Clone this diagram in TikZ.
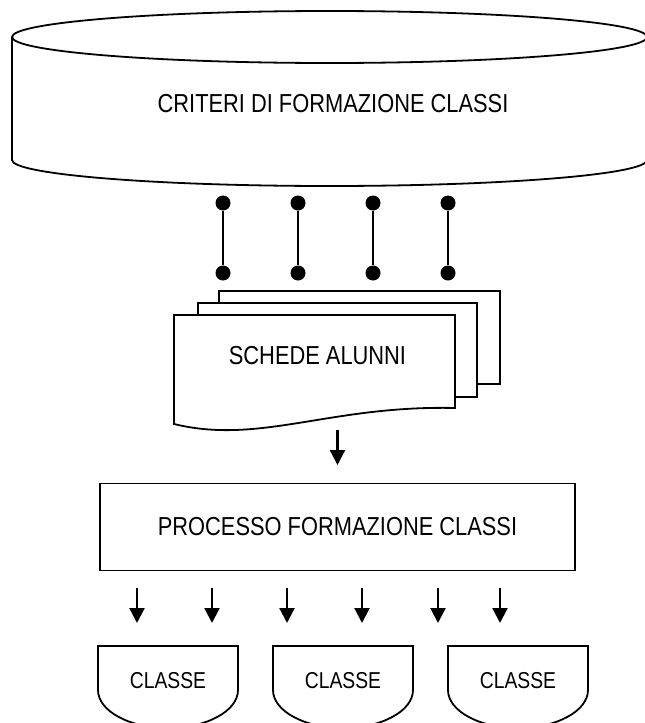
\documentclass[tikz,border=0pt]{standalone}
\usepackage{fontspec}
\setmainfont[FakeStretch=0.84]{Liberation Sans}
\usetikzlibrary{arrows.meta}

\begin{document}
\begin{tikzpicture}[x=1pt, y=-1pt,
    lbl/.style={font=\fontsize{26}{30}\selectfont, inner sep=0pt},
    small lbl/.style={font=\fontsize{23}{27}\selectfont, inner sep=0pt},
    outline/.style={line width=1.8pt, fill=white},
    dot/.style={circle, fill=black, inner sep=0pt, minimum size=15pt},
    flow/.style={line width=2.2pt, -{Triangle[length=15pt, width=15pt]}}]
  \useasboundingbox (0,0) rectangle (645,723);

  % archivio dei criteri
  \draw [outline] (12,37) -- (12,160) arc [start angle=180, end angle=0, x radius=317.5, y radius=26] -- (647,37);
  \draw [outline] (329.5,37) ellipse [x radius=317.5, y radius=26];
  \node [lbl] (crit) at (333,104) {CRITERI DI FORMAZIONE CLASSI};

  % collegamenti
  \foreach \x [count=\i] in {223,298,373,448} {
    \node [dot] (top\i) at (\x,203) {};
    \node [dot] (bot\i) at (\x,273) {};
    \draw [line width=2.2pt] (top\i) -- (bot\i);
  }

  % pila di schede
  \draw [outline] (219,291) rectangle (500,384);
  \draw [outline] (198,303) rectangle (477,397);
  \draw [outline] (174,315) -- (455,315) -- (455,408) .. controls (330,405) and (260,445) .. (174,424) -- cycle;
  \node [lbl] (schede) at (317.5,356) {SCHEDE ALUNNI};

  \node [draw, line width=1.8pt, minimum width=475pt, minimum height=87pt, lbl] (proc) at (337.5,527) {PROCESSO FORMAZIONE CLASSI};
  \coordinate (in) at (337.5,430);
  \coordinate (inend) at (337.5,465);
  \draw [flow] (in) -- (inend);

  % uscite
  \foreach \x [count=\i] in {137,212,287,362,438,500} {
    \coordinate (out\i) at (\x,588);
    \coordinate (end\i) at (\x,623);
    \draw [flow] (out\i) -- (end\i);
  }

  % classi
  \foreach \x [count=\i] in {168,343,518} {
    \draw [outline] (\x-70,646) -- (\x+70,646) -- (\x+70,690) arc [start angle=0, end angle=180, x radius=70, y radius=38] -- cycle;
    \node [small lbl] (classe\i) at (\x,681) {CLASSE};
  }
\end{tikzpicture}
\end{document}
